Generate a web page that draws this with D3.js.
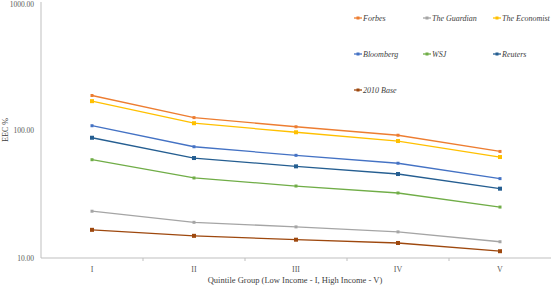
<!DOCTYPE html>
<html><head><meta charset="utf-8">
<script src="https://cdn.jsdelivr.net/npm/d3@7"></script>
<style>body{margin:0;background:#fff}svg{display:block}text{font-family:"Liberation Serif","Times New Roman",serif}</style>
</head><body><svg id="c" width="551" height="287"></svg>
<script>
const categories = ["I","II","III","IV","V"];
const seriesNames = ["Forbes","The Guardian","The Economist","Bloomberg","WSJ","Reuters","2010 Base"];
const forbes    = [186, 125, 106, 91, 68];
const guardian  = [23.2, 19.0, 17.5, 16.0, 13.4];
const economist = [168, 113, 96, 82, 61.5];
const bloomberg = [108, 74, 63.4, 55, 41.7];
const wsj       = [58.6, 42.2, 36.5, 32.2, 25];
const reuters   = [87, 60.4, 52, 45.3, 34.8];
const base2010  = [16.6, 14.9, 13.9, 13.1, 11.3];
const yTicks = [10, 100, 1000];
const colors = ["#ED7D31","#A5A5A5","#FFC000","#4472C4","#70AD47","#255E91","#9E480E"];
const values = [forbes, guardian, economist, bloomberg, wsj, reuters, base2010];

const svg = d3.select("#c");
const x = d3.scaleBand().domain(categories).range([41, 551]);
const y = d3.scaleLog().domain([10, 1000]).range([258, 2]);

svg.append("line").attr("x1",41).attr("x2",41).attr("y1",y(1000)).attr("y2",y(10)).attr("stroke","#bfbfbf");
svg.append("line").attr("x1",41).attr("x2",551).attr("y1",y(10)).attr("y2",y(10)).attr("stroke","#bfbfbf");
svg.selectAll(".yt").data(yTicks).enter().append("text")
  .attr("x",34).attr("y",d=>Math.max(y(d)+3,7)).attr("text-anchor","end")
  .attr("font-size",7.5).attr("fill","#595959")
  .text(d=>d3.format(".2f")(d));
const bounds = categories.slice(1).map(c=>x(c));
svg.selectAll(".xtm").data(bounds).enter().append("line")
  .attr("x1",d=>d).attr("x2",d=>d).attr("y1",y(10)).attr("y2",y(10)+3).attr("stroke","#bfbfbf");
svg.selectAll(".xt").data(categories).enter().append("text")
  .attr("x",d=>x(d)+x.bandwidth()/2).attr("y",272).attr("text-anchor","middle")
  .attr("font-size",8).attr("fill","#595959").text(d=>d);
svg.append("text").attr("x",295).attr("y",283).attr("text-anchor","middle")
  .attr("font-size",8.5).attr("fill","#404040")
  .text("Quintile Group (Low Income - I, High Income - V)");
svg.append("text").attr("transform","translate(8,130) rotate(-90)").attr("text-anchor","middle")
  .attr("font-size",8).attr("fill","#404040").text("EEC %");

const line = d3.line().x((d,i)=>x(categories[i])+x.bandwidth()/2).y(d=>y(d));
seriesNames.forEach((name,k)=>{
  const g = svg.append("g");
  g.append("path").attr("d",line(values[k])).attr("fill","none").attr("stroke",colors[k]).attr("stroke-width",1.3);
  const sq = (k===5||k===6||k===2);
  g.selectAll("m").data(values[k]).enter().append("rect")
    .attr("x",(d,i)=>x(categories[i])+x.bandwidth()/2-(sq?2:1.5))
    .attr("y",d=>y(d)-(sq?2:1.5)).attr("width",sq?4:3).attr("height",sq?4:3)
    .attr("fill",colors[k]);
});

const legX = [358, 427, 497], legY = [18, 54, 90];
seriesNames.forEach((name,k)=>{
  const lx = legX[k%3], ly = legY[Math.floor(k/3)];
  const g = svg.append("g");
  g.append("line").attr("x1",lx-4).attr("x2",lx+4).attr("y1",ly).attr("y2",ly).attr("stroke",colors[k]).attr("stroke-width",1.3);
  g.append("rect").attr("x",lx-1.5).attr("y",ly-1.5).attr("width",3).attr("height",3).attr("fill",colors[k]);
  g.append("text").attr("x",lx+5).attr("y",ly+3).attr("font-style","italic")
    .attr("font-size",8).attr("fill","#404040").text(name);
});
</script></body></html>
